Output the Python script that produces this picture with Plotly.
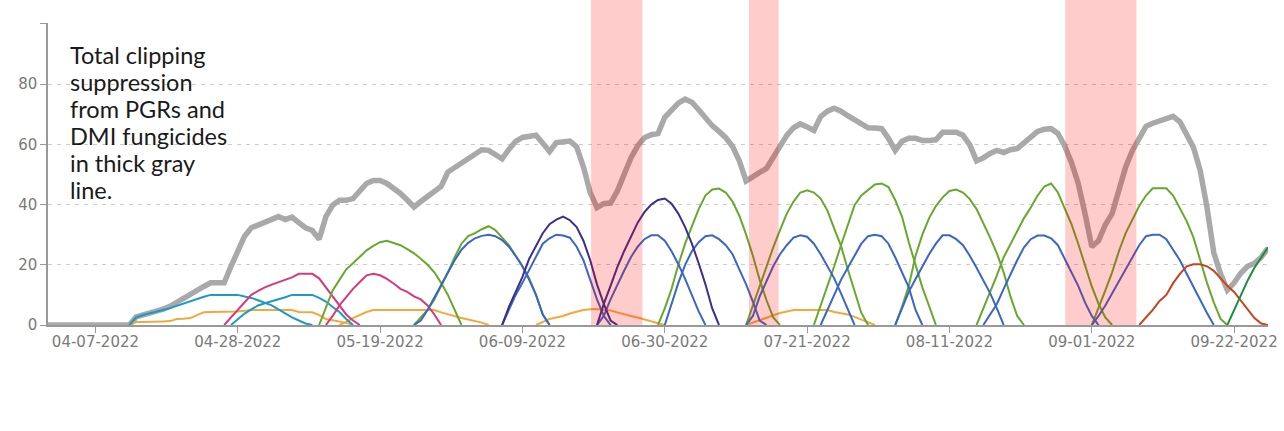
import pandas as pd
from plotly.graph_objs import Figure, Scatter

# total suppression (thick gray), daily from 03-31-2022
total_start = "2022-03-31"
total = [0, 0, 0, 0, 0, 0, 0, 0, 0, 0, 0, 0, 0,
         2.7, 3.3, 4, 4.6, 5.3, 6.2, 7.6, 9, 10.3, 11.6, 12.8, 14, 14, 14,
         19.5, 25, 29.5, 32.3, 33.2, 34, 35, 36, 35, 35.8, 34, 32.3, 31.4, 28.5,
         36, 39.8, 41.4, 41.4, 42, 44.7, 47, 48, 48, 47, 45.5, 43.7, 41.5, 39.2,
         41, 42.8, 44.5, 46, 50.8, 52.3, 53.8, 55, 57, 58.2, 58, 56.5, 55.2, 58.3,
         61, 62.3, 62.8, 63, 60.4, 57.6, 60.6, 61, 61.1, 59.2, 52.5, 44, 39, 40.3,
         40.5, 44.5, 50.5, 55.5, 59.5, 62.2, 63.2, 63.6, 69, 71.7, 73.7, 75, 74, 71.5,
         68.5, 66.2, 64.3, 62.2, 59.3, 54.5, 47.8, 49.5, 50.7, 52, 55.5, 59, 63, 65.5,
         66.8, 65.8, 64.6, 69.2, 71, 72, 71, 69.5, 68, 66.7, 65.5, 65.4, 65.2, 62,
         58, 61, 62, 62, 61.3, 61.3, 61.5, 64, 64, 64, 63, 59.8, 54.5, 55.5,
         57, 58, 57.3, 58.2, 58.6, 60.5, 62.5, 64.3, 65, 65.2, 63.6, 59.5, 54, 47,
         37, 26, 28, 33.3, 37, 45, 52.5, 58, 62.5, 66, 67, 67.7, 68.7, 69.3,
         67.5, 63.5, 59, 51.3, 39, 24, 17, 11.6, 14, 17.3, 19.5, 20.5, 22.5, 25.5]

# individual products: start date of each curve + daily values
orange_starts = ["2022-04-12", "2022-05-13", "2022-06-11", "2022-07-12"]
orange_vals = [
    [0, 1, 1, 1, 1.1, 1.2, 1.3, 2, 2.1, 2.3, 3.3, 4.2, 4.3, 4.3, 4.4, 4.4, 4.5, 4.7,
     5, 5, 5, 5, 5, 5, 5, 4.3, 4.3, 4.2, 3.3, 2, 1.6, 1.2, 0.7, 0],
    [0, 1, 2.3, 3.3, 4.3, 5, 5, 5, 5, 5, 5, 5, 5, 5, 5, 4.2, 3.5, 2.8, 2.3, 1.8, 1.3, 0.8, 0],
    [0, 1, 2, 2.5, 3, 3.8, 4.5, 5, 5.2, 5.3, 5, 4.8, 4.2, 3.5, 3, 2.5, 1.8, 1.2, 0.6, 0],
    [0, 0.8, 1.7, 2.5, 3.3, 4, 4.5, 5, 5, 5, 5, 5, 5, 4.3, 4, 3.5, 2.7, 1.8, 0.8, 0],
]

cyan_starts = ["2022-04-12", "2022-04-27"]
cyan_vals = [
    [0, 2.5, 3.3, 3.8, 4.3, 5, 5.6, 6.4, 7.2, 8, 8.7, 9.4, 10, 10, 10, 10, 10, 9.5, 9,
     8.2, 7.3, 6.5, 5.2, 3.8, 2.5, 1.5, 0.5, 0],
    [0, 2, 3.8, 5.2, 6.5, 7.2, 7.8, 8.5, 9.2, 10, 10, 10, 10, 9, 7.8, 6, 4.3, 2, 0],
]

magenta_starts = ["2022-04-26", "2022-05-11"]
magenta_vals = [
    [0, 2.5, 5, 7.5, 10, 11.3, 12.5, 13.4, 14.2, 15, 15.8, 17, 17, 17, 15.5, 12.5, 9.5,
     6.3, 3.5, 1.5, 0],
    [0, 3, 6.5, 9.3, 12, 14.3, 16.5, 17, 16.5, 15.3, 13.8, 12, 11, 9.5, 8.5, 6.5, 3.5, 0],
]

green_starts = ["2022-05-10", "2022-05-24", "2022-06-29", "2022-07-12",
                "2022-07-22", "2022-08-03", "2022-08-15", "2022-09-01"]
green_vals = [
    [0, 6, 11.5, 15, 18.5, 20.5, 22.8, 24.8, 26.3, 27.5, 28, 27.3, 26.5, 25.2, 23.8, 22,
     20, 17.5, 14, 10, 5, 0],
    [0, 2.5, 5, 8.5, 12.8, 17.5, 22.5, 27, 29.5, 30.5, 31.8, 32.8, 31.5, 29, 26.5, 23,
     19.5, 15.5, 10, 3.5, 0],
    [0, 5.5, 12, 20, 27, 33, 38.5, 43, 45, 45.3, 44, 41, 36.3, 30, 23, 15, 8.3, 2.5, 0],
    [0, 6.5, 12.6, 19.5, 25.8, 31.5, 37, 41, 44, 44.7, 44, 42, 38, 32, 26.3, 18.5, 11, 4, 0],
    [0, 6.5, 12.6, 19.5, 26.5, 33.5, 39.8, 43, 45, 46.7, 47, 45.8, 41.5, 36, 27.5, 20,
     12.5, 6.3, 0],
    [0, 6, 13, 23, 30, 35.5, 39.5, 42.4, 44.5, 45, 44, 41.8, 38.5, 34, 29, 23.8, 17.5,
     9.5, 3, 0],
    [0, 5.5, 10.6, 16.5, 22.5, 27, 31.5, 35.5, 39, 43, 46, 47, 44, 39, 33.5, 27, 20,
     12.8, 7, 2.5, 0],
    [0, 5.5, 11.5, 17.5, 24.5, 30.5, 35, 39.5, 43, 45.4, 45.4, 45.4, 43, 39, 34.5, 29.1,
     21.5, 14, 7.5, 2, 0],
]

blue_starts = ["2022-05-24", "2022-06-06", "2022-06-20", "2022-06-30", "2022-07-12",
               "2022-07-23", "2022-08-03", "2022-08-16", "2022-09-01"]
blue_vals = [
    [0, 1.5, 5, 9, 13.3, 17.5, 21.5, 25, 27.3, 28.8, 29.6, 30, 29.5, 28.2, 26, 23, 19.5,
     15, 10, 3.5, 0],
    [0, 5, 10, 14, 18.5, 23, 27, 28.8, 30, 29.7, 29, 26, 21.5, 15, 8.5, 3, 0],
    [0, 3, 8.5, 13.5, 18, 22.5, 26, 28.5, 29.8, 29.8, 28, 24.5, 20.2, 15.3, 10, 4.5, 0],
    [0, 7, 14, 20, 24.5, 27.5, 29.5, 29.8, 28.5, 26.5, 23.5, 18.5, 13.5, 7.8, 1.5, 0],
    [0, 3, 9.5, 14.5, 19.5, 23.5, 26.5, 29, 29.8, 29.3, 27, 23.5, 19.5, 15.5, 10.5, 5, 0],
    [0, 5, 10.5, 15, 19, 23, 27, 29.5, 30, 29.5, 27, 22.5, 17.5, 12.5, 5, 0],
    [0, 5.5, 11, 15.3, 19.5, 23.5, 27, 29.8, 29.8, 28.5, 26.5, 23, 19, 15, 10.6, 5.5, 0],
    [0, 3.5, 7, 12, 17, 21.5, 25.8, 28.5, 29.7, 29.7, 28.8, 26.5, 22, 17.5, 13, 7.5, 3, 0],
    [0, 3, 6.5, 10.5, 14.5, 19, 23, 26.5, 29.5, 30, 30, 28.5, 25, 21.5, 17, 12.5, 8.3, 4, 0],
]

indigo_starts = ["2022-06-06", "2022-06-20"]
indigo_vals = [
    [0, 6, 11, 16, 22, 26.5, 30.5, 33.5, 35, 36, 34.8, 32.5, 28, 21.5, 13.5, 7, 1.5, 0],
    [0, 7, 13, 19.2, 24.5, 29.5, 34, 37.5, 40, 41.5, 42, 40.3, 37, 32.5, 27, 20.5, 13.5, 5.5, 0],
]

red_starts = ["2022-09-08"]
red_vals = [[0, 2.5, 5, 8, 10, 13.9, 17, 19.5, 20.2, 20.2, 19.5, 18, 15.5, 13, 11, 8, 5, 2.3, 0.5, 0]]

darkgreen_starts = ["2022-09-21"]
darkgreen_vals = [[0, 5, 10, 14.8, 19, 22.5, 25.8]]

# periods shaded in red
band_starts = ["2022-06-19 03:00", "2022-07-12 10:00", "2022-08-28 02:00"]
band_ends = ["2022-06-26 17:00", "2022-07-16 19:00", "2022-09-07 14:00"]

tick_dates = ["2022-04-07", "2022-04-28", "2022-05-19", "2022-06-09", "2022-06-30",
              "2022-07-21", "2022-08-11", "2022-09-01", "2022-09-22"]
y_ticks = [0, 20, 40, 60, 80, 100]
y_ticktext = ["0", "20", "40", "60", "80", ""]

note_lines = ["Total clipping", "suppression", "from PGRs and", "DMI fungicides",
              "in thick gray", "line."]


def joinCurves(starts, curves):
    """
    Puts several curves of one product into one x/y pair, split by None
    """
    xs, ys = [], []
    for s, vals in zip(starts, curves):
        xs += list(pd.date_range(s, periods=len(vals), freq="D")) + [None]
        ys += list(vals) + [None]
    return xs, ys


fig = Figure()

fig.add_trace(Scatter(x=pd.date_range(total_start, periods=len(total), freq="D"), y=total,
                      mode="lines", line=dict(color="#A9A9A9", width=5.5)))

series = [(orange_starts, orange_vals, "#F2A93B"),
          (cyan_starts, cyan_vals, "#1C9AC4"),
          (magenta_starts, magenta_vals, "#D63A7A"),
          (green_starts, green_vals, "#68A82E"),
          (blue_starts, blue_vals, "#3A66C6"),
          (indigo_starts, indigo_vals, "#3B2E8F"),
          (red_starts, red_vals, "#C8431F"),
          (darkgreen_starts, darkgreen_vals, "#1E8E3E")]

for starts, vals, col in series:
    xs, ys = joinCurves(starts, vals)
    fig.add_trace(Scatter(x=xs, y=ys, mode="lines", connectgaps=False,
                          line=dict(color=col, width=2)))

for b0, b1 in zip(band_starts, band_ends):
    fig.add_shape(type="rect", xref="x", yref="paper", x0=b0, x1=b1, y0=0, y1=1.077,
                  fillcolor="rgba(255,0,0,0.2)", line_width=0, layer="above")

# white box behind the note hides the gridlines there
fig.add_shape(type="rect", xref="paper", yref="paper", x0=0, x1=0.158, y0=0.3, y1=0.95,
              fillcolor="white", line_width=0, layer="between")

# one annotation per line to get the tight line spacing
for i, txt in enumerate(note_lines):
    fig.add_annotation(text=txt, xref="paper", yref="paper", x=0.016, y=0.895 - i * 0.0897,
                       xanchor="left", yanchor="middle", align="left", showarrow=False,
                       font=dict(family="Lato", size=23.5, color="#1a1a1a"))

fig.update_layout(width=1284, height=431, showlegend=False,
                  margin=dict(l=48, r=16, t=23, b=106),
                  plot_bgcolor="white", paper_bgcolor="white",
                  font=dict(family="DejaVu Sans", size=15, color="#7a7a7a"))

fig.update_xaxes(type="date", range=["2022-03-31", "2022-09-27"], automargin=False,
                 tickvals=tick_dates, tickformat="%m-%d-%Y",
                 ticks="outside", ticklen=6, tickcolor="#999", ticklabelstandoff=-4,
                 showline=True, linecolor="#999", linewidth=1.5,
                 showgrid=False, zeroline=False)

fig.update_yaxes(range=[0, 100.3], tickvals=y_ticks, ticktext=y_ticktext, automargin=False,
                 ticks="outside", ticklen=6, tickcolor="#999",
                 showline=True, linecolor="#999", linewidth=1.5,
                 showgrid=True, gridcolor="#cccccc", gridwidth=1, griddash="4px,5px",
                 zeroline=False)

# drop the default body margin so the figure sits at the window corner
fig.write_html("out.html", config={"displayModeBar": False},
               post_script="document.body.style.margin='0px';")
